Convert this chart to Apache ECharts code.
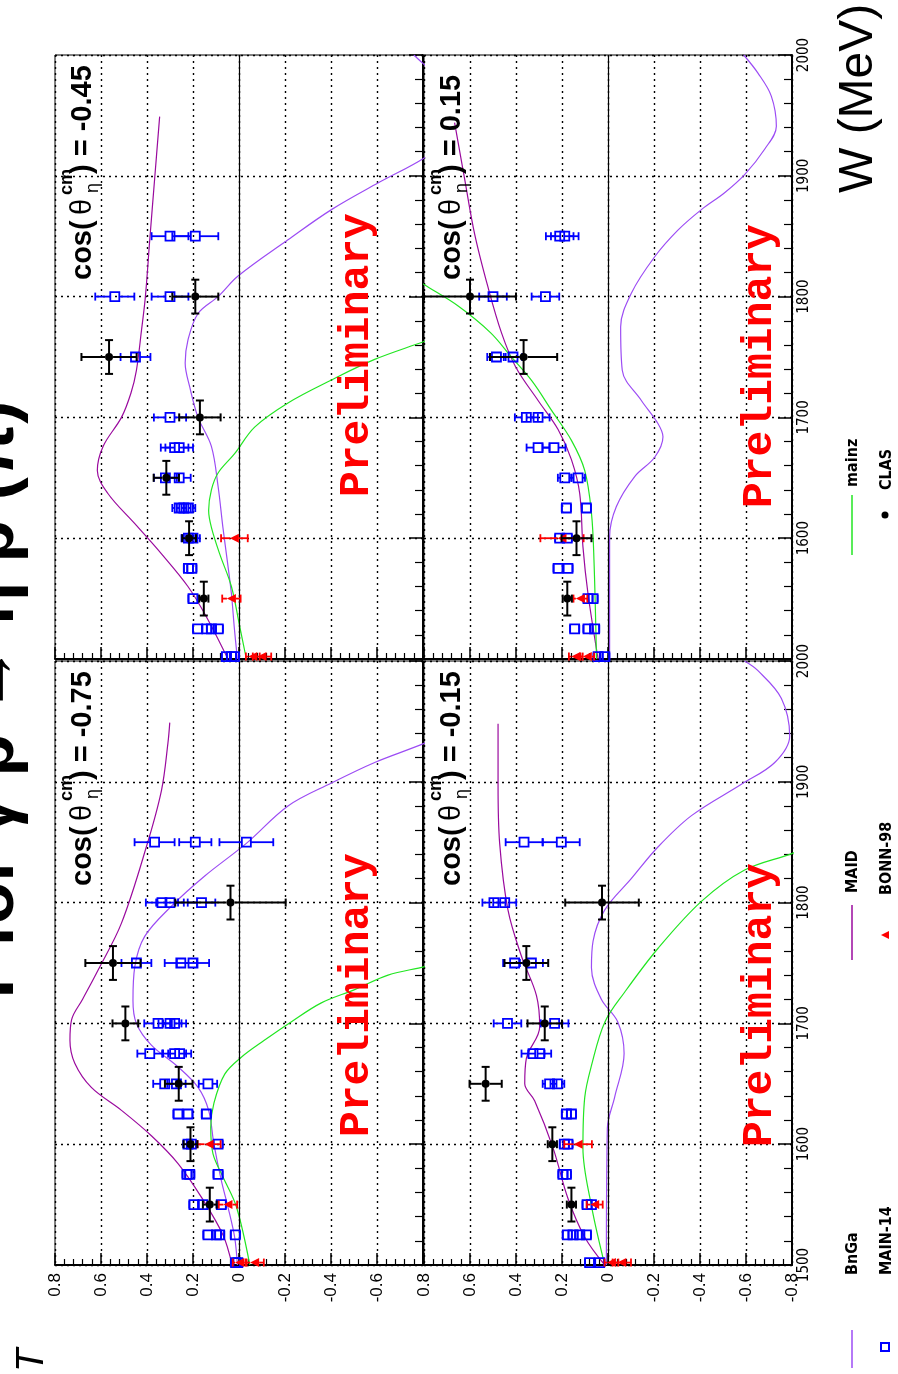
<!DOCTYPE html>
<html>
<head>
<meta charset="utf-8">
<title>T for γ p → η p</title>
<script src="https://cdn.jsdelivr.net/npm/echarts@6.0.0/dist/echarts.min.js"></script>
<style>
  html, body { margin: 0; padding: 0; background: #fff; }
  #chart { width: 898px; height: 1374px; }
</style>
</head>
<body>
<div id="chart"></div>
<script>
// The ROOT canvas is turned by 90 degrees: W runs upwards, T runs from 0.8 (left) to -0.8 (right).
// Panels: A = cos -0.45 (top left), B = cos -0.75 (bottom left), C = cos 0.15 (top right), D = cos -0.15 (bottom right)

const tRange = [-0.8, 0.8]
const wRange = [1500, 2000]
const cosLabels = ['-0.45', '-0.75', '0.15', '-0.15']
const legendNames = ['BnGa', 'MAID', 'mainz', 'MAIN-14', 'BONN-98', 'CLAS']

// MAIN-14: [W, T, dT]
const main14_A = [
  [1850, 0.30, 0.08], [1850, 0.19, 0.10],
  [1800, 0.54, 0.085], [1800, 0.30, 0.08],
  [1750, 0.45, 0.065],
  [1700, 0.30, 0.07],
  [1675, 0.28, 0.06], [1675, 0.26, 0.06],
  [1650, 0.32, 0.05], [1650, 0.26, 0.05],
  [1625, 0.26, 0.03], [1625, 0.24, 0.03], [1625, 0.22, 0.03],
  [1600, 0.22, 0.03], [1600, 0.20, 0.03],
  [1575, 0.22, 0.02], [1575, 0.205, 0.02],
  [1550, 0.20, 0.02],
  [1525, 0.18, 0.02], [1525, 0.14, 0.02], [1525, 0.12, 0.02], [1525, 0.09, 0.02],
  [1502, 0.055, 0.02], [1502, 0.033, 0.02], [1502, 0.02, 0.02]
]
const main14_B = [
  [1850, 0.367, 0.087], [1850, 0.19, 0.07], [1850, -0.032, 0.117],
  [1800, 0.335, 0.07], [1800, 0.30, 0.06], [1800, 0.163, 0.06],
  [1750, 0.446, 0.065], [1750, 0.253, 0.07], [1750, 0.20, 0.07],
  [1700, 0.352, 0.06], [1700, 0.30, 0.05], [1700, 0.28, 0.05],
  [1675, 0.388, 0.054], [1675, 0.28, 0.05], [1675, 0.258, 0.05],
  [1650, 0.323, 0.05], [1650, 0.272, 0.04], [1650, 0.135, 0.04],
  [1625, 0.265, 0.02], [1625, 0.222, 0.02], [1625, 0.142, 0.02],
  [1600, 0.222, 0.02], [1600, 0.207, 0.02], [1600, 0.091, 0.02],
  [1575, 0.226, 0.02], [1575, 0.214, 0.02], [1575, 0.091, 0.02],
  [1550, 0.196, 0.02], [1550, 0.157, 0.02], [1550, 0.077, 0.02],
  [1525, 0.135, 0.02], [1525, 0.098, 0.02], [1525, 0.084, 0.02], [1525, 0.016, 0.02],
  [1502, 0.015, 0.02], [1502, 0.005, 0.02]
]
const main14_C = [
  [1850, 0.21, 0.06], [1850, 0.188, 0.06],
  [1800, 0.50, 0.06], [1800, 0.272, 0.06],
  [1750, 0.485, 0.04], [1750, 0.413, 0.04],
  [1700, 0.355, 0.05], [1700, 0.304, 0.05],
  [1675, 0.304, 0.05], [1675, 0.235, 0.05],
  [1650, 0.188, 0.03], [1650, 0.13, 0.03],
  [1625, 0.181, 0.02], [1625, 0.094, 0.02],
  [1600, 0.21, 0.02], [1600, 0.177, 0.02],
  [1575, 0.217, 0.02], [1575, 0.174, 0.02],
  [1550, 0.087, 0.02], [1550, 0.065, 0.02],
  [1525, 0.145, 0.02], [1525, 0.087, 0.02], [1525, 0.058, 0.02],
  [1502, 0.043, 0.02], [1502, 0.014, 0.02]
]
const main14_D = [
  [1850, 0.365, 0.08], [1850, 0.203, 0.08],
  [1800, 0.496, 0.05], [1800, 0.449, 0.05],
  [1750, 0.406, 0.05], [1750, 0.333, 0.05],
  [1700, 0.437, 0.06], [1700, 0.232, 0.06],
  [1675, 0.326, 0.05], [1675, 0.297, 0.05],
  [1650, 0.254, 0.03], [1650, 0.22, 0.03],
  [1625, 0.181, 0.02], [1625, 0.159, 0.02],
  [1600, 0.19, 0.02], [1600, 0.174, 0.02],
  [1575, 0.196, 0.02], [1575, 0.181, 0.02],
  [1550, 0.091, 0.02], [1550, 0.072, 0.02],
  [1525, 0.177, 0.02], [1525, 0.152, 0.02], [1525, 0.123, 0.02], [1525, 0.094, 0.02],
  [1502, 0.08, 0.02], [1502, 0.036, 0.02]
]

// BONN-98: [W, T, dT]
const bonn98_A = [[1600, 0.02, 0.058], [1550, 0.033, 0.04], [1502, -0.06, 0.03], [1502, -0.10, 0.04]]
const bonn98_B = [[1600, 0.13, 0.05], [1550, 0.048, 0.04], [1502, -0.003, 0.03], [1502, -0.068, 0.04]]
const bonn98_C = [[1600, 0.2, 0.094], [1550, 0.12, 0.03], [1502, 0.14, 0.03], [1502, 0.09, 0.03]]
const bonn98_D = [[1600, 0.13, 0.06], [1550, 0.058, 0.035], [1502, -0.015, 0.03], [1502, -0.06, 0.04]]

// CLAS: [W, T, dT, dW]
const clas_A = [[1800, 0.19, 0.10, 14], [1750, 0.565, 0.12, 14], [1700, 0.17, 0.09, 14], [1650, 0.316, 0.055, 14], [1600, 0.217, 0.03, 14], [1550, 0.153, 0.02, 14]]
const clas_B = [[1800, 0.037, 0.24, 14], [1750, 0.548, 0.12, 14], [1700, 0.494, 0.056, 14], [1650, 0.262, 0.06, 14], [1600, 0.211, 0.03, 14], [1550, 0.127, 0.03, 14]]
const clas_C = [[1800, 0.60, 0.2, 14], [1750, 0.367, 0.146, 14], [1600, 0.137, 0.065, 14], [1550, 0.177, 0.02, 14]]
const clas_D = [[1800, 0.026, 0.16, 14], [1750, 0.355, 0.095, 14], [1700, 0.275, 0.075, 14], [1650, 0.532, 0.07, 14], [1600, 0.242, 0.02, 14], [1550, 0.159, 0.02, 14]]

// model curves: [W, T]
const bnga_A = [[1500, 0.007], [1525, 0.02], [1554, 0.033], [1580, 0.05], [1609, 0.07], [1643, 0.091], [1676, 0.12], [1700, 0.178], [1725, 0.214], [1745, 0.234], [1764, 0.222], [1786, 0.178], [1800, 0.091], [1817, 0.004], [1847, -0.213], [1872, -0.402], [1894, -0.604], [1915, -0.807], [1940, -0.98], [1965, -1.0], [1985, -0.85], [2000, -0.76]]
const maid_A = [[1500, 0.048], [1535, 0.142], [1560, 0.222], [1587, 0.337], [1612, 0.453], [1637, 0.57], [1656, 0.616], [1676, 0.591], [1700, 0.511], [1720, 0.47], [1739, 0.446], [1772, 0.424], [1800, 0.407], [1847, 0.388], [1897, 0.367], [1949, 0.345]]
const mainz_A = [[1500, -0.032], [1527, -0.003], [1560, 0.033], [1587, 0.084], [1609, 0.12], [1623, 0.132], [1640, 0.12], [1654, 0.091], [1670, 0.019], [1692, -0.068], [1712, -0.213], [1731, -0.402], [1748, -0.59], [1763, -0.807], [1770, -0.9]]

const bnga_B = [[1500, 0.007], [1523, 0.019], [1548, 0.048], [1570, 0.077], [1600, 0.109], [1628, 0.132], [1647, 0.178], [1664, 0.265], [1682, 0.381], [1700, 0.446], [1719, 0.461], [1747, 0.453], [1772, 0.41], [1797, 0.294], [1822, 0.149], [1849, -0.032], [1880, -0.213], [1899, -0.402], [1916, -0.59], [1932, -0.807], [1945, -0.95]]
const maid_B = [[1500, 0.03], [1525, 0.07], [1556, 0.163], [1584, 0.265], [1607, 0.381], [1628, 0.511], [1647, 0.642], [1667, 0.714], [1686, 0.735], [1703, 0.728], [1720, 0.68], [1744, 0.613], [1783, 0.511], [1846, 0.403], [1893, 0.337], [1932, 0.309], [1949, 0.301]]
const mainz_B = [[1500, -0.047], [1548, 0.011], [1573, 0.07], [1592, 0.113], [1614, 0.123], [1634, 0.109], [1658, 0.062], [1672, -0.01], [1686, -0.11], [1701, -0.225], [1717, -0.358], [1728, -0.503], [1740, -0.648], [1747, -0.807], [1752, -0.9]]

const bnga_C = [[1500, -0.007], [1601, -0.007], [1626, -0.036], [1651, -0.116], [1667, -0.203], [1684, -0.239], [1695, -0.217], [1714, -0.145], [1739, -0.062], [1775, -0.055], [1803, -0.102], [1833, -0.203], [1855, -0.304], [1872, -0.406], [1886, -0.507], [1901, -0.594], [1922, -0.681], [1941, -0.732], [1966, -0.71], [1985, -0.652], [2000, -0.59]]
const maid_C = [[1500, 0.043], [1554, 0.087], [1593, 0.109], [1637, 0.123], [1665, 0.159], [1690, 0.217], [1714, 0.304], [1742, 0.402], [1770, 0.463], [1808, 0.522], [1852, 0.58], [1897, 0.623], [1944, 0.667]]
const mainz_C = [[1500, 0.05], [1582, 0.061], [1621, 0.072], [1656, 0.101], [1681, 0.159], [1706, 0.246], [1730, 0.33], [1750, 0.42], [1770, 0.51], [1792, 0.65], [1810, 0.8], [1825, 0.92]]

const bnga_D = [[1500, 0.007], [1613, 0.003], [1639, -0.029], [1675, -0.07], [1701, -0.043], [1720, 0.029], [1746, 0.072], [1768, 0.065], [1794, 0.014], [1820, -0.102], [1846, -0.217], [1872, -0.363], [1898, -0.58], [1916, -0.725], [1938, -0.79], [1969, -0.754], [1992, -0.652], [2000, -0.594]]
const maid_D = [[1500, 0.014], [1523, 0.101], [1555, 0.174], [1597, 0.239], [1636, 0.319], [1650, 0.362], [1671, 0.355], [1697, 0.297], [1723, 0.311], [1756, 0.377], [1794, 0.435], [1849, 0.471], [1898, 0.478], [1948, 0.478]]
const mainz_D = [[1500, 0.014], [1549, 0.072], [1597, 0.109], [1639, 0.101], [1665, 0.072], [1701, 0.014], [1726, -0.073], [1762, -0.217], [1801, -0.406], [1827, -0.594], [1841, -0.804], [1850, -0.9]]

const colBnGa = '#9c4cf4'
const colMaid = '#9a0a9e'
const colMainz = '#22e622'
const colMain14 = '#0000ff'
const colBonn = '#ff0000'
const colClas = '#000000'

const FONT = "'Liberation Sans', Arial, Helvetica, sans-serif"
const NARROW = "'Liberation Sans Narrow', 'DejaVu Sans Condensed', 'Liberation Sans', sans-serif"
const R90 = Math.PI / 2

// panel layout (pixels)
const panels = [
  { left: 55, top: 55, tLabels: false, wLabels: false },
  { left: 55, top: 661, tLabels: true, wLabels: false },
  { left: 424, top: 55, tLabels: false, wLabels: true },
  { left: 424, top: 661, tLabels: true, wLabels: true }
]
const PW = 368
const PH = 604

const dotted = { color: '#000', type: [2, 4], width: 1.4 }

function tAxis(gi, p) {
  return {
    type: 'value', gridIndex: gi, min: tRange[0], max: tRange[1], interval: 0.2,
    inverse: true, position: 'bottom',
    axisLine: { show: true, onZero: false, lineStyle: { color: '#000', width: 2 } },
    axisTick: { show: true, inside: true, length: 12, lineStyle: { color: '#000', width: 1.5 } },
    minorTick: { show: true, splitNumber: 5, length: 6, lineStyle: { color: '#000', width: 1.2 } },
    axisLabel: {
      show: p.tLabels, rotate: 90, margin: 8, fontSize: 17, fontFamily: FONT, color: '#000',
      showMinLabel: gi === 3, showMaxLabel: true,
      formatter: v => String(Math.round(v * 10) / 10)
    },
    splitLine: { show: true, lineStyle: dotted }
  }
}

function wAxis(gi, p) {
  return {
    type: 'value', gridIndex: gi, min: wRange[0], max: wRange[1], interval: 100,
    position: 'right',
    axisLine: { show: true, onZero: false, lineStyle: { color: '#000', width: 2 } },
    axisTick: { show: true, inside: true, length: 14, lineStyle: { color: '#000', width: 1.5 } },
    minorTick: { show: true, splitNumber: 5, length: 8, lineStyle: { color: '#000', width: 1.2 } },
    axisLabel: {
      show: p.wLabels, rotate: 90, margin: 5, fontSize: 15, fontFamily: NARROW, color: '#000',
      showMinLabel: gi === 3, showMaxLabel: true,
      formatter: v => String(v)
    },
    splitLine: { show: true, lineStyle: dotted }
  }
}

function curve(gi, pts, color, withZero) {
  const s = {
    type: 'line', xAxisIndex: gi, yAxisIndex: gi, silent: true,
    data: pts.map(p => [p[1], p[0]]),
    smooth: 0.35, symbol: 'none', clip: true, z: 3,
    lineStyle: { color: color, width: 1.2 }
  }
  if (withZero) {
    s.markLine = {
      silent: true, symbol: 'none', label: { show: false },
      lineStyle: { color: '#000', width: 1.2, type: 'solid' },
      data: [{ xAxis: 0 }]
    }
  }
  return s
}

function errSeries(gi, rows, kind) {
  const color = kind === 'main' ? colMain14 : (kind === 'bonn' ? colBonn : colClas)
  return {
    type: 'custom', xAxisIndex: gi, yAxisIndex: gi, silent: true,
    z: kind === 'clas' ? 6 : 5,
    data: rows.map(r => [r[1], r[0], r[2], r[3] || 0]),
    encode: { x: 0, y: 1 },
    renderItem: function (params, api) {
      const t = api.value(0), w = api.value(1), dt = api.value(2), dw = api.value(3)
      const c = api.coord([t, w])
      const pl = api.coord([t + dt, w])
      const pr = api.coord([t - dt, w])
      const h = kind === 'clas' ? 4 : 4.5
      const cap = 4
      const st = { stroke: color, lineWidth: kind === 'clas' ? 2 : 1.8 }
      const kids = []
      const seg = (x1, y1, x2, y2) => kids.push({ type: 'line', shape: { x1, y1, x2, y2 }, style: st })
      if (pl[0] < c[0] - h) seg(pl[0], c[1], c[0] - h, c[1])
      if (pr[0] > c[0] + h) seg(c[0] + h, c[1], pr[0], c[1])
      seg(pl[0], c[1] - cap, pl[0], c[1] + cap)
      seg(pr[0], c[1] - cap, pr[0], c[1] + cap)
      if (dw) {
        const pt = api.coord([t, w + dw]), pb = api.coord([t, w - dw])
        seg(c[0], pt[1], c[0], pb[1])
        seg(c[0] - cap, pt[1], c[0] + cap, pt[1])
        seg(c[0] - cap, pb[1], c[0] + cap, pb[1])
      }
      if (kind === 'main') {
        kids.push({ type: 'rect', shape: { x: c[0] - h, y: c[1] - h, width: 2 * h, height: 2 * h },
          style: { fill: 'none', stroke: color, lineWidth: 1.8 } })
      } else if (kind === 'bonn') {
        kids.push({ type: 'polygon', shape: { points: [[c[0] - h, c[1]], [c[0] + h, c[1] - h], [c[0] + h, c[1] + h]] },
          style: { fill: color } })
      } else {
        kids.push({ type: 'circle', shape: { cx: c[0], cy: c[1], r: h }, style: { fill: color } })
      }
      return { type: 'group', children: kids }
    }
  }
}

// rotated text: (x, y) is the middle line / start of the text
function vText(x, y, text, size, opt) {
  opt = opt || {}
  return {
    type: 'text', x: x, y: y, rotation: R90, z: 100, silent: true,
    style: {
      text: text, fontSize: size,
      fontFamily: opt.family || FONT,
      fontWeight: opt.weight || 'normal',
      fontStyle: opt.style || 'normal',
      fill: opt.color || '#000',
      align: opt.align || 'left', textAlign: opt.align || 'left',
      verticalAlign: 'middle', textVerticalAlign: 'middle'
    }
  }
}

function cosLabel(x0, y0, val) {
  // x0: baseline, y0: start of the text
  const bold = { weight: 'bold' }
  return [
    vText(x0 - 9, y0, 'cos(', 29, bold),
    vText(x0 - 9, y0 - 65, 'θ', 29),
    vText(x0 - 25, y0 - 85, 'cm', 18, bold),
    vText(x0 + 1, y0 - 87, 'η', 18),
    vText(x0 - 9, y0 - 106, ') = ' + val, 29, bold)
  ]
}

const grids = panels.map(p => ({
  left: p.left, top: p.top, width: PW, height: PH,
  show: true, borderColor: '#000', borderWidth: 1, backgroundColor: 'transparent',
  containLabel: false, outerBoundsMode: 'none'
}))

const sets = [
  [main14_A, bonn98_A, clas_A, bnga_A, maid_A, mainz_A],
  [main14_B, bonn98_B, clas_B, bnga_B, maid_B, mainz_B],
  [main14_C, bonn98_C, clas_C, bnga_C, maid_C, mainz_C],
  [main14_D, bonn98_D, clas_D, bnga_D, maid_D, mainz_D]
]

const series = []
sets.forEach((s, gi) => {
  series.push(curve(gi, s[3], colBnGa, true))
  series.push(curve(gi, s[4], colMaid, false))
  series.push(curve(gi, s[5], colMainz, false))
  series.push(errSeries(gi, s[0], 'main'))
  series.push(errSeries(gi, s[1], 'bonn'))
  series.push(errSeries(gi, s[2], 'clas'))
})

const graphics = []
// panel labels
const cosPos = [[92, 280], [92, 886], [461, 280], [461, 886]]
cosPos.forEach((c, i) => graphics.push(...cosLabel(c[0], c[1], cosLabels[i])))
// Preliminary
const prelimPos = [[357, 497], [357, 1137], [760, 508], [760, 1147]]
prelimPos.forEach(pp => graphics.push(vText(pp[0], pp[1], 'Preliminary', 43,
  { family: "'Liberation Mono', 'DejaVu Sans Mono', monospace", weight: 'bold', color: '#ff0000' })))
// titles
graphics.push(vText(-6, 1010, 'T for γ p → η p (π)', 70, { weight: 'bold' }))
graphics.push(vText(859, 193, 'W (MeV)', 48))
graphics.push(vText(32, 1372, 'T', 38, { style: 'italic' }))

// legend
const legLine = (x, y1, y2, color) => ({ type: 'line', z: 100, shape: { x1: x, y1: y1, x2: x, y2: y2 }, style: { stroke: color, lineWidth: 1.5 } })
graphics.push(legLine(852, 1330, 1368, colBnGa))
graphics.push(legLine(852, 905, 960, colMaid))
graphics.push(legLine(852, 495, 555, colMainz))
graphics.push({ type: 'rect', z: 100, shape: { x: 881, y: 1343, width: 8, height: 8 }, style: { fill: 'none', stroke: colMain14, lineWidth: 2 } })
graphics.push({ type: 'polygon', z: 100, shape: { points: [[881, 935], [889, 931], [889, 939]] }, style: { fill: colBonn } })
graphics.push({ type: 'circle', z: 100, shape: { cx: 885, cy: 515, r: 3.5 }, style: { fill: colClas } })
const legText = [[853, 1275], [853, 893], [853, 487], [887, 1275], [887, 895], [887, 490]]
legText.forEach((p, i) => graphics.push(vText(p[0], p[1], legendNames[i], 16, { family: NARROW, weight: 'bold' })))

const chart = echarts.init(document.getElementById('chart'))
chart.setOption({
  animation: false,
  backgroundColor: '#fff',
  grid: grids,
  xAxis: panels.map((p, i) => tAxis(i, p)),
  yAxis: panels.map((p, i) => wAxis(i, p)),
  series: series,
  graphic: graphics
})
</script>
</body>
</html>
